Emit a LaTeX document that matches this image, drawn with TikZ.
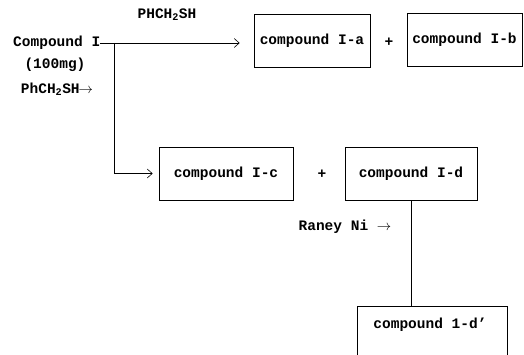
\documentclass[tikz,border=0pt]{standalone}
\usepackage{fontspec}
\setmonofont{Liberation Mono}
\usepackage{tikz}
\usetikzlibrary{arrows.meta}

\tikzset{
  lbl/.style={font=\ttfamily\bfseries\fontsize{14.5}{16}\selectfont, inner sep=0pt},
  cbox/.style={lbl, draw, line width=0.7pt, minimum height=53pt},
  flow/.style={line width=0.6pt, -{Straight Barb[length=5pt,width=9pt]}},
}

\begin{document}
\begin{tikzpicture}[x=1pt, y=-1pt]
  \useasboundingbox (0,0) rectangle (524,355);
  % starting material and reagents
  \node[lbl, anchor=west] (cpdI) at (13,43) {Compound I};
  \node[lbl] (mass) at (55,65) {(100mg)};
  \node[lbl] (reagL) at (57,89) {PhCH\textsubscript{2}SH\kern-1pt$\rightarrow$};
  \node[lbl] (reagT) at (167,15) {PHCH\textsubscript{2}SH};
  % first products
  \node[cbox, minimum width=116pt] (ia) at (312,40.5) {compound I-a};
  \node[lbl] (plusA) at (389,42) {+};
  \node[cbox, minimum width=115pt] (ib) at (464.5,39.5) {compound I-b};
  % second products
  \node[cbox, minimum width=134pt] (ic) at (226,173.5) {compound I-c};
  \node[lbl] (plusC) at (322,174) {+};
  \node[cbox, minimum width=132pt] (id) at (411,174) {compound I-d};
  \node[lbl] (raney) at (345,227) {Raney Ni $\rightarrow$};
  % reduced product, cut by the lower edge
  \node[cbox, minimum width=150pt, minimum height=60pt, anchor=north] (idp) at (432,306) {};
  \node[lbl] (idpText) at (430,325) {compound 1-d’};
  % connectors
  \coordinate (brk) at (114,43);
  \draw[flow, shorten >=14pt] (cpdI.east) -- (cpdI.east -| ia.west);
  \draw[flow, shorten >=6pt] (brk) |- (ic.west);
  \draw[line width=0.6pt] (id.south) -- (id.south |- idp.north);
\end{tikzpicture}
\end{document}
